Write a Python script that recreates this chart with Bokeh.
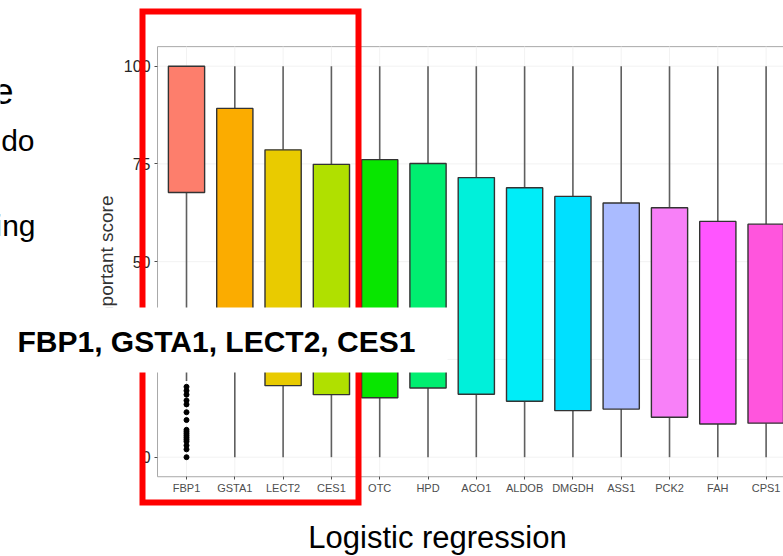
from bokeh.plotting import figure
from bokeh.models import (Range1d, FixedTicker, BoxAnnotation, Label,
                          ColumnDataSource, LinearAxis)
from bokeh.embed import file_html
from bokeh.resources import INLINE

# ---------------- data ----------------
genes = ["FBP1", "GSTA1", "LECT2", "CES1", "OTC", "HPD", "ACO1", "ALDOB",
         "DMGDH", "ASS1", "PCK2", "FAH", "CPS1"]
q3 = [100.0, 89.2, 78.6, 74.9, 76.1, 75.1, 71.5, 68.9, 66.7, 65.0, 63.8, 60.3, 59.6]
median = [93.0, 56.7, 50.8, 46.9, 43.5, 43.9, 42.2, 38.6, 37.4, 37.0, 31.5, 32.1, 32.3]
q1 = [67.7, 25.0, 18.3, 16.0, 15.2, 17.7, 16.1, 14.3, 11.9, 12.3, 10.2, 8.5, 8.7]
whisker_hi = [100, 100, 100, 100, 100, 100, 100, 100, 100, 100, 100, 100, 100]
whisker_lo = [19.5, 0, 0, 0, 0, 0, 0, 0, 0, 0, 0, 0, 0]
colors = ["#FD7E6C", "#FBAC00", "#E9CB00", "#B0E000", "#08E600", "#00EE70",
          "#00F0DA", "#00EDF8", "#00E0FF", "#AABBFF", "#F880F8", "#FF55FF", "#FF55DD"]
fbp1_outliers = [18.0, 17.0, 16.0, 14.5, 13.5, 11.5, 9.5, 7.0, 6.5, 6.0, 5.5, 5.0,
                 4.5, 4.0, 3.0, 2.0, 0.0]
y_ticks = [0, 25, 50, 75, 100]
y_limits = (-5, 105)          # panel limits (ggplot expansion)
x_limits = (0.4, 14.0)        # panel starts 0.6 before first gene, runs off the slide

xs = [i + 1 for i in range(len(genes))]
src = ColumnDataSource(dict(x=xs, q1=q1, q3=q3, med=median, hi=whisker_hi,
                            lo=whisker_lo, color=colors))

# ---------------- figure (frame = whole slide crop) ----------------
W, H = 783, 556
p = figure(width=W, height=H, output_backend="svg", toolbar_location=None,
           x_range=Range1d(-2.851, 13.360), y_range=Range1d(-25.40, 116.80),
           x_axis_type=None, y_axis_type=None,
           min_border_left=0, min_border_right=0, min_border_top=0,
           min_border_bottom=0)
p.background_fill_color = "white"
p.border_fill_color = "white"
p.outline_line_color = None
p.xgrid.visible = False
p.ygrid.visible = False

# panel grid lines (confined to the panel)
p.segment(x0=[x_limits[0]] * len(y_ticks), x1=[x_limits[1]] * len(y_ticks),
          y0=y_ticks, y1=y_ticks, line_color="#F2F2F2", line_width=1)
p.segment(x0=xs, x1=xs, y0=[y_limits[0]] * len(xs), y1=[y_limits[1]] * len(xs),
          line_color="#F2F2F2", line_width=1)

# panel border
p.add_layout(BoxAnnotation(left=x_limits[0], right=x_limits[1], bottom=y_limits[0],
                           top=y_limits[1], fill_alpha=0, line_color="#A8A8A8",
                           line_alpha=1, line_width=1, level="underlay"))

# axes pinned to the panel edges
yaxis = LinearAxis(fixed_location=x_limits[0], ticker=FixedTicker(ticks=y_ticks),
                   bounds=y_limits)
xaxis = LinearAxis(fixed_location=y_limits[0], ticker=FixedTicker(ticks=xs),
                   bounds=x_limits,
                   major_label_overrides={x: g for x, g in zip(xs, genes)})
for ax in (xaxis, yaxis):
    ax.axis_line_color = None
    ax.minor_tick_line_color = None
    ax.major_tick_line_color = "#4D4D4D"
    ax.major_tick_in = 0
    ax.major_tick_out = 3
xaxis.major_label_text_font = "Liberation Sans"
xaxis.major_label_text_font_size = "11px"
xaxis.major_label_text_color = "#4D4D4D"
xaxis.major_label_standoff = 2
yaxis.major_label_text_font = "Liberation Sans"
yaxis.major_label_text_font_size = "16px"
yaxis.major_label_text_color = "#262626"
yaxis.major_label_standoff = 4
yaxis.axis_label = "Important score"
yaxis.axis_label_text_font = "Liberation Sans"
yaxis.axis_label_text_font_style = "normal"
yaxis.axis_label_text_font_size = "19px"
yaxis.axis_label_text_color = "#333333"
yaxis.axis_label_standoff = 4
p.add_layout(yaxis, "left")
p.add_layout(xaxis, "below")

# ---------------- boxplots ----------------
p.segment(x0="x", y0="q3", x1="x", y1="hi", source=src, line_color="#5F5F5F", line_width=1.6)
p.segment(x0="x", y0="lo", x1="x", y1="q1", source=src, line_color="#5F5F5F", line_width=1.6)
p.vbar(x="x", width=0.75, top="q3", bottom="q1", source=src, fill_color="color",
       line_color="#333333", line_width=1.4)
p.rect(x="x", y="med", width=0.75, height=0, source=src, line_color="#111111", line_width=2.2)
p.scatter(x=[xs[0]] * len(fbp1_outliers), y=fbp1_outliers, size=5, color="black")

# ---------------- slide decorations (screen px from top-left) ----------------
def sx(px):
    return px
def sy(py):
    return H - py

red = BoxAnnotation(left=sx(142), right=sx(358), top=sy(11), bottom=sy(502),
                    left_units="screen", right_units="screen", top_units="screen",
                    bottom_units="screen", fill_alpha=0, line_color="#FF0000",
                    line_alpha=1, line_width=6, line_join="miter",
                    level="annotation")
p.add_layout(red)

white = BoxAnnotation(left=sx(0), right=sx(447), top=sy(307), bottom=sy(372),
                      left_units="screen", right_units="screen", top_units="screen",
                      bottom_units="screen", fill_color="white", fill_alpha=1,
                      line_alpha=0, level="overlay")
p.add_layout(white)

def lab(text, x, y, size, align="left", bold=False):
    l = Label(x=sx(x), y=sy(y), x_units="screen", y_units="screen", text=text,
              text_font="Liberation Sans", text_font_size=size,
              text_font_style="bold" if bold else "normal", text_color="black",
              text_align=align, text_baseline="middle", level="overlay")
    p.add_layout(l)

lab("FBP1, GSTA1, LECT2, CES1", 17, 340.5, "30px", bold=True)
lab("e", 13, 90, "36px", align="right")
lab("do", 34, 139.5, "30px", align="right")
lab("ing", 35, 224.5, "30px", align="right")
lab("Logistic regression", 437, 536.5, "31px", align="center")

open("out.html", "w").write(file_html(p, INLINE))
